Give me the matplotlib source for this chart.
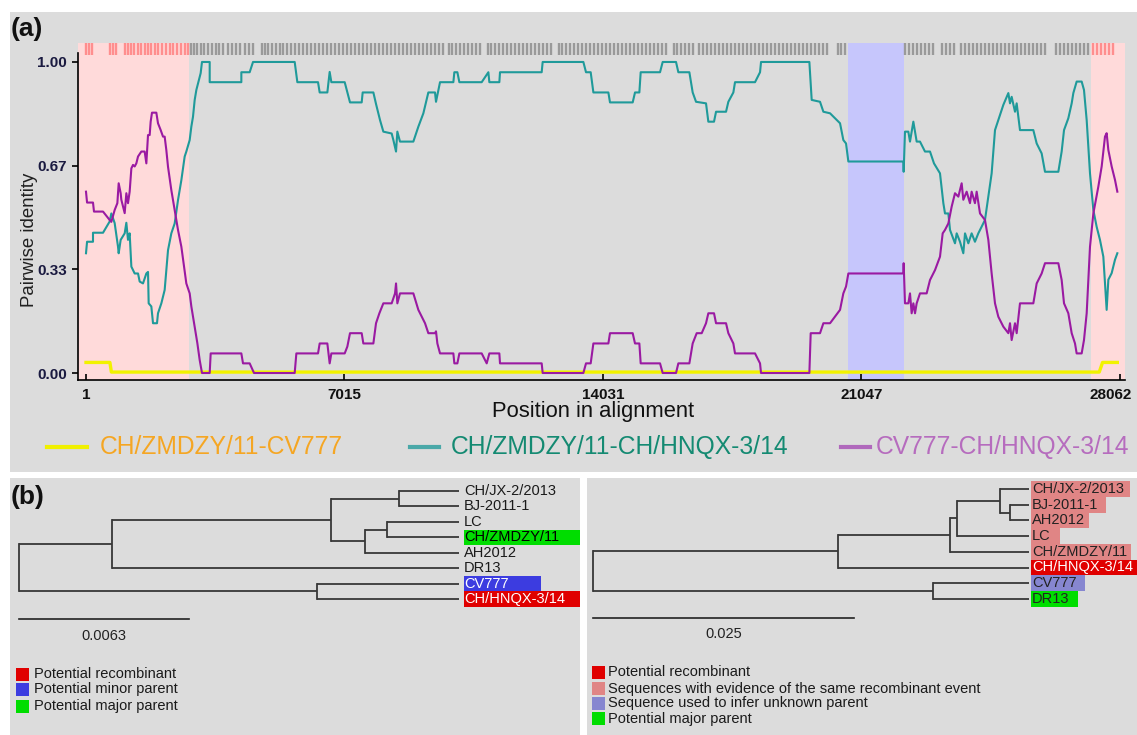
import numpy as np
import matplotlib
matplotlib.use('Agg')
import matplotlib.pyplot as plt
import matplotlib.transforms as mtransforms
from matplotlib.patches import Rectangle
from matplotlib.lines import Line2D

W, H = 1137, 735
ARIAL = ['Liberation Sans', 'DejaVu Sans']

GRAY = '#dcdcdc'
PINK = '#ffdada'
BLUE = '#c6c6fc'
TEAL = '#1f9a9a'
PURPLE = '#9a1aa2'
YELLOW = '#f2f200'

# ---------------- panel (a) data ----------------
x_ticks = [1, 7015, 14031, 21047, 28062]
y_ticks = [0.0, 0.333, 0.667, 1.0]
y_ticklabels = ['0.00', '0.33', '0.67', '1.00']

# recombinant region breakpoints and the "unknown" block
recomb_left_end = 2797
recomb_right_start = 27277
blue_block = (20682, 22201)

# informative sites shown as the tick strip on top
sites = [1, 82, 164, 651, 733, 815, 1059, 1141, 1222, 1304, 1412, 1494, 1602, 1684,
         1765, 1874, 1955, 2064, 2172, 2281, 2362, 2471, 2579, 2688, 2769,
         2851, 2932, 3013, 3122, 3203, 3312, 3420, 3529, 3610, 3719, 3855, 3963,
         4072, 4180, 4316, 4424, 4533, 4777, 4859, 4940, 5049, 5157, 5266, 5347,
         5456, 5564, 5673, 5781, 5890, 5998, 6107, 6215, 6324, 6433, 6541, 6650,
         6758, 6867, 6975, 7084, 7192, 7301, 7410, 7518, 7627, 7735, 7844, 7952,
         8061, 8169, 8278, 8387, 8495, 8604, 8712, 8821, 8929, 9038, 9146, 9255,
         9364, 9472, 9581, 9689, 9852, 9933, 10042, 10150, 10259, 10367, 10476,
         10585, 10693, 10910, 10992, 11100, 11209, 11317, 11426, 11535, 11643,
         11752, 11860, 11969, 12077, 12186, 12294, 12403, 12512, 12620, 12837,
         12919, 13027, 13136, 13244, 13353, 13461, 13570, 13678, 13787, 13896,
         14004, 14113, 14221, 14330, 14438, 14547, 14656, 14764, 14873, 14981,
         15090, 15198, 15307, 15415, 15524, 15633, 15741, 15958, 16040, 16148,
         16257, 16365, 16474, 16637, 16745, 16854, 16962, 17071, 17180, 17288,
         17397, 17505, 17614, 17722, 17831, 17939, 18048, 18157, 18265, 18374,
         18482, 18591, 18699, 18808, 18916, 19025, 19134, 19242, 19351, 19459,
         19568, 19676, 19785, 19893, 20002, 20111, 20409, 20491, 20599,
         22227, 22336, 22444, 22553, 22662, 22770, 22879, 22987, 23232, 23340,
         23449, 23557, 23747, 23856, 23964, 24073, 24181, 24290, 24399, 24507,
         24616, 24724, 24833, 24941, 25050, 25159, 25267, 25376, 25484, 25593,
         25701, 25810, 25918, 26027, 26326, 26434, 26543, 26651, 26760, 26869,
         26977, 27086, 27194, 27330, 27439, 27547, 27656, 27764, 27873]

yellow_x = [1, 650, 690, 27500, 27590, 27991]
yellow_y = [0.034, 0.034, 0.003, 0.003, 0.034, 0.034]

teal_x = [1, 30, 191, 191, 463, 643, 689, 779, 870, 888, 942, 1051, 1096, 1141, 1186,
          1232, 1322, 1413, 1458, 1548, 1639, 1684, 1702, 1774, 1820, 1928, 1955,
          2046, 2091, 2136, 2181, 2227, 2317, 2408, 2498, 2589, 2679, 2724, 2815,
          2860, 2905, 2951, 2996, 3041, 3113, 3149, 3358, 3358, 4217, 4217, 4443,
          4534, 5665, 5737, 6298, 6343, 6551, 6614, 6660, 7022,
          7166, 7483, 7510, 7800, 7872, 7981, 8071, 8297, 8343, 8415, 8451, 8523,
          8885, 9021, 9157, 9292, 9473, 9500, 9609, 9971, 9998, 10080, 10134,
          10740, 10921, 10948, 11219, 11237, 12368, 12395, 13499, 13571, 13698,
          13771, 14178,
          14222, 14838, 14901, 15019, 15055, 15580, 15652, 16014, 16077, 16376,
          16466, 16557, 16828, 16891, 17045, 17100, 17371, 17434, 17570, 17615,
          18158, 18294, 18321, 19633, 19696, 19922, 20013, 20194, 20465, 20555,
          20628, 20691,
          22183, 22192, 22228, 22319, 22364, 22409, 22455, 22500, 22545, 22635,
          22771, 22907, 23015, 23178, 23269, 23314, 23405, 23450, 23585, 23631,
          23721, 23811, 23857, 23947, 24037, 24127, 24218, 24399, 24490, 24580,
          24671, 24761, 24897, 25033, 25078, 25123, 25214, 25259, 25349, 25711,
          25802, 25937, 26028, 26390, 26480, 26544, 26661, 26752, 26797, 26887,
          27023, 27086, 27159, 27249, 27340, 27430, 27520, 27611, 27701, 27747,
          27837, 27927, 27991]
teal_y = [0.385, 0.422, 0.422, 0.451, 0.451, 0.487, 0.513, 0.482, 0.406, 0.385, 0.428,
          0.449, 0.483, 0.428, 0.449, 0.342, 0.32, 0.32, 0.294, 0.288, 0.32, 0.325,
          0.224, 0.214, 0.16, 0.16, 0.192, 0.224, 0.245, 0.267, 0.331, 0.395, 0.449,
          0.481, 0.556, 0.62, 0.696, 0.712, 0.749, 0.792, 0.824, 0.878, 0.91, 0.931,
          0.964, 1.0, 1.0, 0.935, 0.935, 0.967, 0.967, 1.0, 1.0, 0.935, 0.935, 0.902,
          0.902, 0.968, 0.935, 0.935,
          0.87, 0.87, 0.902, 0.902, 0.865, 0.813, 0.776, 0.77, 0.749, 0.712, 0.776,
          0.744, 0.744, 0.792, 0.835, 0.902, 0.902, 0.872, 0.935, 0.935, 0.967,
          0.967, 0.935, 0.935, 0.967, 0.935, 0.935, 0.967, 0.967, 1.0, 1.0, 0.967,
          0.967, 0.902, 0.902,
          0.87, 0.87, 0.902, 0.902, 0.967, 0.967, 1.0, 1.0, 0.967, 0.967, 0.902,
          0.872, 0.867, 0.808, 0.808, 0.84, 0.84, 0.872, 0.902, 0.935, 0.935,
          0.967, 1.0, 1.0, 0.878, 0.872, 0.84, 0.835, 0.803, 0.749, 0.738, 0.68,
          0.68, 0.647, 0.776, 0.776, 0.744, 0.776, 0.808, 0.776, 0.744, 0.744,
          0.712, 0.712, 0.674, 0.642, 0.546, 0.513, 0.513, 0.46, 0.417, 0.449,
          0.422, 0.385, 0.449, 0.417, 0.449, 0.422, 0.449, 0.492, 0.567, 0.642,
          0.781, 0.813, 0.862, 0.9, 0.867, 0.888, 0.84, 0.867, 0.781, 0.781,
          0.738, 0.706, 0.647, 0.647, 0.712, 0.781, 0.819, 0.867, 0.9, 0.937,
          0.937, 0.91, 0.813, 0.642, 0.524, 0.47, 0.428, 0.374, 0.203, 0.3,
          0.321, 0.364, 0.385]

purple_x = [1, 30, 191, 218, 463, 643, 689, 779, 852, 888, 942, 960, 1051, 1096, 1141,
            1186, 1232, 1277, 1322, 1367, 1413, 1503, 1593, 1639, 1684, 1729, 1756,
            1792, 1910, 1955, 2028, 2091, 2136, 2181, 2227, 2317, 2408, 2498, 2589,
            2661, 2724, 2815, 2860, 2951, 3023, 3086, 3149, 3358, 3385, 4217, 4262,
            4443, 4561, 5665, 5710, 6298, 6343, 6551, 6614, 6660, 7022,
            7094, 7166, 7483, 7528, 7800, 7872, 7963, 8071, 8297, 8388, 8415, 8451,
            8523, 8885, 9021, 9202, 9292, 9473, 9500, 9537, 9609, 9971, 9998, 10080,
            10134, 10740, 10876, 10948, 11219, 11237, 12368, 12395, 13499, 13571,
            13698, 13771, 14178,
            14222, 14838, 14901, 15019, 15055, 15580, 15652, 16014, 16077, 16376,
            16466, 16575, 16711, 16828, 16891, 17045, 17100, 17371, 17434, 17570,
            17615, 18158, 18294, 18321, 19633, 19669, 19922, 20013, 20194, 20465,
            20555, 20628, 20691,
            22183, 22192, 22228, 22319, 22364, 22409, 22455, 22500, 22545, 22635,
            22816, 22907, 23043, 23178, 23251, 23314, 23405, 23495, 23585, 23676,
            23766, 23811, 23902, 23992, 24037, 24127, 24173, 24264, 24399, 24490,
            24580, 24671, 24761, 24897, 25033, 25078, 25123, 25214, 25259, 25349,
            25711, 25802, 25937, 26028, 26390, 26480, 26544, 26661, 26752, 26842,
            26887, 27023, 27086, 27159, 27249, 27340, 27475, 27566, 27656, 27701,
            27747, 27837, 27927, 27991]
purple_y = [0.583, 0.548, 0.548, 0.519, 0.519, 0.492, 0.486, 0.524, 0.546, 0.61, 0.578,
            0.557, 0.514, 0.578, 0.546, 0.583, 0.658, 0.669, 0.664, 0.674, 0.696,
            0.712, 0.712, 0.674, 0.765, 0.765, 0.808, 0.837, 0.837, 0.803, 0.781,
            0.76, 0.76, 0.717, 0.663, 0.588, 0.524, 0.46, 0.406, 0.342, 0.288, 0.256,
            0.214, 0.149, 0.096, 0.042, 0.0, 0.0, 0.063, 0.063, 0.031, 0.031, 0.0,
            0.0, 0.063, 0.063, 0.095, 0.095, 0.031, 0.063, 0.063,
            0.085, 0.128, 0.128, 0.095, 0.095, 0.16, 0.192, 0.224, 0.224, 0.256,
            0.288, 0.224, 0.256, 0.256, 0.203, 0.16, 0.128, 0.128, 0.134, 0.095,
            0.063, 0.063, 0.031, 0.031, 0.063, 0.063, 0.031, 0.063, 0.063, 0.031,
            0.031, 0.0, 0.0, 0.031, 0.031, 0.095, 0.095,
            0.128, 0.128, 0.095, 0.095, 0.031, 0.031, 0.0, 0.0, 0.031, 0.031, 0.095,
            0.128, 0.128, 0.16, 0.192, 0.192, 0.16, 0.16, 0.128, 0.095, 0.063,
            0.063, 0.031, 0.0, 0.0, 0.128, 0.128, 0.16, 0.16, 0.203, 0.256, 0.278,
            0.32,
            0.32, 0.353, 0.224, 0.224, 0.256, 0.192, 0.224, 0.192, 0.224, 0.256,
            0.256, 0.299, 0.331, 0.374, 0.449, 0.46, 0.481, 0.535, 0.578, 0.567,
            0.61, 0.557, 0.583, 0.546, 0.583, 0.546, 0.583, 0.513, 0.492, 0.428,
            0.32, 0.224, 0.181, 0.149, 0.128, 0.16, 0.106, 0.16, 0.128, 0.224,
            0.224, 0.288, 0.32, 0.353, 0.353, 0.299, 0.224, 0.192, 0.128, 0.095,
            0.063, 0.063, 0.106, 0.192, 0.406, 0.513, 0.599, 0.664, 0.76, 0.771,
            0.717, 0.664, 0.621, 0.583]

legend_labels = ['CH/ZMDZY/11-CV777', 'CH/ZMDZY/11-CH/HNQX-3/14', 'CV777-CH/HNQX-3/14']

# ---------------- panel (b) data ----------------
left_newick = ("((((CH/JX-2/2013:0.00222,BJ-2011-1:0.00222):0.00252,"
               "((LC:0.00266,CH/ZMDZY/11:0.00266):0.00082,AH2012:0.00348):0.00126):0.00812,"
               "DR13:0.01286):0.00346,(CV777:0.00526,CH/HNQX-3/14:0.00526):0.01106);")
right_newick = ("(((((CH/JX-2/2013:0.00277,(BJ-2011-1:0.00182,AH2012:0.00182):0.00095):0.00413,"
                "LC:0.0069):0.00067,CH/ZMDZY/11:0.00757):0.01073,CH/HNQX-3/14:0.0183):0.02347,"
                "(CV777:0.0092,DR13:0.0092):0.03257);")
left_scale = 0.0063
right_scale = 0.025

RED = '#e00000'
SALMON = '#e08585'
DBLUE = '#3c3ce0'
SLATE = '#8686d0'
GREEN = '#00dd00'

left_highlight = {'CH/ZMDZY/11': (GREEN, 'black', 125),
                  'CV777': (DBLUE, 'white', 77),
                  'CH/HNQX-3/14': (RED, 'white', 125)}
right_highlight = {'CH/JX-2/2013': (SALMON, '#222222', 99),
                   'BJ-2011-1': (SALMON, '#222222', 75),
                   'AH2012': (SALMON, '#222222', 58),
                   'LC': (SALMON, '#222222', 29),
                   'CH/ZMDZY/11': (SALMON, '#222222', 100),
                   'CH/HNQX-3/14': (RED, 'white', 110),
                   'CV777': (SLATE, '#222222', 54),
                   'DR13': (GREEN, '#222222', 47)}

left_legend = [(RED, 'Potential recombinant'),
               (DBLUE, 'Potential minor parent'),
               (GREEN, 'Potential major parent')]
right_legend = [(RED, 'Potential recombinant'),
                (SALMON, 'Sequences with evidence of the same recombinant event'),
                (SLATE, 'Sequence used to infer unknown parent'),
                (GREEN, 'Potential major parent')]


def parse_newick(s):
    s = s.strip().rstrip(';')
    pos = 0

    def node():
        nonlocal pos
        children = []
        if s[pos] == '(':
            pos += 1
            children.append(node())
            while s[pos] == ',':
                pos += 1
                children.append(node())
            pos += 1
        start = pos
        while pos < len(s) and s[pos] not in ':,()':
            pos += 1
        name = s[start:pos]
        length = 0.0
        if pos < len(s) and s[pos] == ':':
            pos += 1
            start = pos
            while pos < len(s) and s[pos] not in ',()':
                pos += 1
            length = float(s[start:pos])
        return {'name': name, 'len': length, 'children': children}
    return node()


def layout(nd, depth, tips):
    nd['x'] = depth + nd['len']
    if not nd['children']:
        nd['y'] = len(tips)
        tips.append(nd)
    else:
        for c in nd['children']:
            layout(c, nd['x'], tips)
        nd['y'] = (nd['children'][0]['y'] + nd['children'][-1]['y']) / 2


fig = plt.figure(figsize=(W / 100, H / 100), dpi=100)
fig.patch.set_facecolor('white')


def fx(px):
    return px / W


def fy(py):
    return 1 - py / H


def panel(x0, y0, x1, y1):
    fig.add_artist(Rectangle((fx(x0), fy(y1)), fx(x1) - fx(x0), fy(y0) - fy(y1),
                             transform=fig.transFigure, facecolor=GRAY,
                             edgecolor='none', zorder=-5))


panel(10, 12, 1137, 472)
panel(10, 478, 580, 735)
panel(587, 478, 1137, 735)

# ---------------- panel (a) ----------------
ax = fig.add_axes([fx(78), fy(380), fx(1125) - fx(78), fy(43) - fy(380)])
ax.set_facecolor('none')
xmin, xmax = -216, 28199
ymin, ymax = -0.0225, 1.061
ax.set_xlim(xmin, xmax)
ax.set_ylim(ymin, ymax)

ax.axvspan(xmin, recomb_left_end, color=PINK, lw=0, zorder=0)
ax.axvspan(recomb_right_start, xmax, color=PINK, lw=0, zorder=0)
ax.axvspan(blue_block[0], blue_block[1], color=BLUE, lw=0, zorder=0)

sites = np.array(sites)
in_recomb = (sites < recomb_left_end) | (sites > recomb_right_start)
ax.vlines(sites[~in_recomb], 1.022, 1.061, colors='#9a9a9a', lw=1.7, zorder=1)
ax.vlines(sites[in_recomb], 1.022, 1.061, colors='#ff8e8e', lw=1.7, zorder=1)

ax.plot(yellow_x, yellow_y, color=YELLOW, lw=2.4, zorder=2)
ax.plot(teal_x, teal_y, color=TEAL, lw=1.5, zorder=3)
ax.plot(purple_x, purple_y, color=PURPLE, lw=1.5, zorder=3)

for s in ['top', 'right']:
    ax.spines[s].set_visible(False)
ax.spines['left'].set_bounds(ymin, 1.03)
ax.spines['left'].set_linewidth(1.2)
ax.spines['bottom'].set_linewidth(1.2)

ax.set_yticks(y_ticks)
ax.set_yticklabels(y_ticklabels, fontsize=11, fontweight='bold', family=ARIAL,
                   color='#1a1a40')
ax.set_xticks(x_ticks)
ax.set_xticklabels([str(t) for t in x_ticks], fontsize=11, fontweight='bold',
                   family=ARIAL, color='#111111')
ax.tick_params(axis='y', direction='out', length=4, width=1.2, pad=4)
ax.tick_params(axis='x', direction='in', length=4, width=1.2, pad=6)
# the last label sits a little left of its tick so it stays inside the figure
last = ax.get_xticklabels()[-1]
last.set_transform(last.get_transform() +
                   mtransforms.ScaledTranslation(-9 / 100, 0, fig.dpi_scale_trans))

fig.text(fx(29), fy(240), 'Pairwise identity', rotation=90, ha='center', va='center',
         fontsize=13.4, family=ARIAL, color='#202020')
fig.text(fx(593), fy(412), 'Position in alignment', ha='center', va='center',
         fontsize=15.8, family=ARIAL, color='#111111')
fig.text(fx(11), fy(29), '(a)', ha='left', va='center', fontsize=19,
         fontweight='bold', family=ARIAL, color='#111111')

leg_y = 447
leg_items = [((47, 87), '#f0f000', 100, '#f5a623'),
             ((410, 439), '#4aa8a8', 451, '#148a72'),
             ((841, 870), '#b068bc', 876, '#b66cbe')]
for ((x0, x1), lc, tx, tc), lab in zip(leg_items, legend_labels):
    fig.add_artist(Line2D([fx(x0), fx(x1)], [fy(leg_y), fy(leg_y)], color=lc, lw=3,
                          transform=fig.transFigure))
    fig.text(fx(tx), fy(leg_y), lab, ha='left', va='center', fontsize=17.7,
             family=ARIAL, color=tc)

# ---------------- panel (b) ----------------
fig.text(fx(11), fy(497), '(b)', ha='left', va='center', fontsize=19,
         fontweight='bold', family=ARIAL, color='#111111')


def draw_tree(newick, box, root_px, tip0_py, tip_step, scale, scale_px,
              highlight, bar_py, bar_lab_py, box_off, text_off):
    x0, y0, x1, y1 = box
    tax = fig.add_axes([fx(x0), fy(y1), fx(x1) - fx(x0), fy(y0) - fy(y1)])
    tax.set_facecolor('none')
    tax.axis('off')
    ppu = scale_px / scale
    tax.set_xlim(-(root_px - x0) / ppu, (x1 - root_px) / ppu)
    tax.set_ylim((y1 - tip0_py) / tip_step, (y0 - tip0_py) / tip_step)

    root = parse_newick(newick)
    tips = []
    layout(root, 0.0, tips)

    def draw(nd, px):
        if nd is not root:
            tax.plot([px, nd['x']], [nd['y'], nd['y']], color='#383838', lw=1.3,
                     solid_capstyle='butt')
        if nd['children']:
            tax.plot([nd['x'], nd['x']], [nd['children'][0]['y'], nd['children'][-1]['y']],
                     color='#383838', lw=1.3, solid_capstyle='projecting')
            for c in nd['children']:
                draw(c, nd['x'])
    draw(root, 0.0)

    for t in tips:
        tc = '#1a1a1a'
        if t['name'] in highlight:
            bc, tc, wpx = highlight[t['name']]
            tax.add_patch(Rectangle((t['x'] + box_off / ppu, t['y'] - 0.5), wpx / ppu, 1.0,
                                    facecolor=bc, edgecolor='none', zorder=1))
        tax.text(t['x'] + text_off / ppu, t['y'], t['name'], ha='left', va='center',
                 fontsize=10.5, family=ARIAL, color=tc, zorder=2)

    by = (bar_py - tip0_py) / tip_step
    tax.plot([0, scale], [by, by], color='#222222', lw=1.2)
    tax.text(scale / 2, (bar_lab_py - tip0_py) / tip_step, str(scale), ha='center',
             va='center', fontsize=10.5, family=ARIAL, color='#222222')


draw_tree(left_newick, (10, 478, 580, 735), 18.5, 491, 15.43, left_scale, 170,
          left_highlight, 619, 636, 5, 5)
draw_tree(right_newick, (587, 478, 1137, 735), 593, 489, 15.7, right_scale, 261,
          right_highlight, 618, 634, 2, 3)


def legend(items, sq_x, centers, text_x):
    for (c, lab), cy in zip(items, centers):
        fig.add_artist(Rectangle((fx(sq_x), fy(cy + 6.5)), 13 / W, 13 / H,
                                 transform=fig.transFigure, facecolor=c, edgecolor='none'))
        fig.text(fx(text_x), fy(cy), lab, ha='left', va='center', fontsize=10.5,
                 family=ARIAL, color='#1a1a1a')


legend(left_legend, 16, [674, 689.5, 706], 34)
legend(right_legend, 592, [672.5, 688.5, 703.5, 718.5], 608)

fig.savefig('out.png', dpi=100, facecolor='white')
